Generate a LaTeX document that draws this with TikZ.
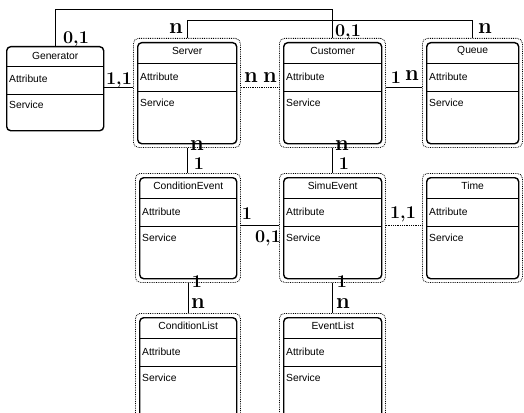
\documentclass[tikz,border=0pt]{standalone}
\usepackage{fontspec}
\newfontfamily\boxfont{Liberation Sans}
\begin{document}
\begin{tikzpicture}[x=1pt,y=-1pt,
  outerbox/.style={draw, densely dotted, rounded corners=5pt, line width=0.8pt, inner sep=0pt, minimum height=109pt},
  innerbox/.style={draw, rounded corners=4pt, line width=1.4pt, inner sep=0pt},
  divider/.style={line width=1pt},
  boxtext/.style={font=\boxfont\fontsize{10.3}{12}\selectfont, inner sep=0pt},
  link/.style={line width=0.8pt},
  dotlink/.style={line width=0.8pt, densely dotted},
  mult/.style={font=\bfseries\fontsize{18}{18}\selectfont, inner sep=0pt},
  multn/.style={font=\bfseries\fontsize{22}{22}\selectfont, inner sep=0pt}]
\useasboundingbox (0,0) rectangle (524,412);
\clip (0,0) rectangle (524,412);
% #1 name, #2 x, #3 y, #4 outer width, #5 title
\newcommand\classbox[5]{%
  \node[outerbox, minimum width=#4pt, anchor=north west] (#1) at (#2,#3) {};
  \node[innerbox, minimum width=#4pt-8pt, minimum height=101pt, anchor=north west] (#1-in) at (#2+4,#3+4) {};
  \draw[divider] ([yshift=-21pt]#1-in.north west) -- ([yshift=-21pt]#1-in.north east);
  \draw[divider] ([yshift=-49pt]#1-in.north west) -- ([yshift=-49pt]#1-in.north east);
  \node[boxtext] (#1-t) at ([yshift=-9pt]#1-in.north) {#5};
  \node[boxtext, anchor=west] (#1-a) at ([xshift=3pt,yshift=-35pt]#1-in.north west) {Attribute};
  \node[boxtext, anchor=west] (#1-s) at ([xshift=3pt,yshift=-61pt]#1-in.north west) {Service};
}
% Generator (no dotted frame)
\node[innerbox, minimum width=97pt, minimum height=84pt, anchor=north west] (generator) at (6,46) {};
\draw[divider] ([yshift=-20pt]generator.north west) -- ([yshift=-20pt]generator.north east);
\draw[divider] ([yshift=-48pt]generator.north west) -- ([yshift=-48pt]generator.north east);
\node[boxtext] (generator-t) at ([yshift=-10pt]generator.north) {Generator};
\node[boxtext, anchor=west] (generator-a) at ([xshift=3pt,yshift=-33pt]generator.north west) {Attribute};
\node[boxtext, anchor=west] (generator-s) at ([xshift=3pt,yshift=-59pt]generator.north west) {Service};

\classbox{server}{133}{38}{107}{Server}
\classbox{customer}{279}{38}{106}{Customer}
\classbox{queue}{422}{38}{100}{Queue}
\classbox{condevent}{135}{173}{105}{ConditionEvent}
\classbox{simuevent}{279}{173}{106}{SimuEvent}
\classbox{time}{422}{173}{100}{Time}
\classbox{condlist}{135}{313}{105}{ConditionList}
\classbox{eventlist}{279}{313}{106}{EventList}

% connectors
\coordinate (top1) at (0,9);
\coordinate (top2) at (0,20);
\coordinate (row1) at (0,87);
\coordinate (row2) at (0,225);
\draw[link] (generator.north) |- (customer.north |- top1) -- (customer.north);
\draw[link] (server.north) |- (queue.north |- top2) -- (queue.north);
\draw[link] (generator.east |- row1) -- (server.west |- row1);
\draw[dotlink] (server.east |- row1) -- (customer.west |- row1);
\draw[link] (customer.east |- row1) -- (queue.west |- row1);
\draw[link] (server.south) -- (server.south |- condevent.north);
\draw[link] (customer.south) -- (customer.south |- simuevent.north);
\draw[link] (condevent.east |- row2) -- (simuevent.west |- row2);
\draw[dotlink] (simuevent.east |- row2) -- (time.west |- row2);
\draw[link] (condevent.south) -- (condevent.south |- condlist.north);
\draw[link] (simuevent.south) -- (simuevent.south |- eventlist.north);

% multiplicities
\node[mult] (m1) at (76,39) {0,1};
\node[multn] (m2) at (176,29) {n};
\node[mult] (m3) at (348,32) {0,1};
\node[multn] (m4) at (485,29) {n};
\node[mult] (m5) at (119,80) {1,1};
\node[multn] (m6) at (251,78) {n};
\node[multn] (m7) at (270,78) {n};
\node[mult] (m8) at (396,78) {1};
\node[multn] (m9) at (412,76) {n};
\node[multn] (m10) at (197,146) {n};
\node[mult] (m11) at (199,164) {1};
\node[multn] (m12) at (342,146) {n};
\node[mult] (m13) at (344,164) {1};
\node[mult] (m14) at (247,214) {1};
\node[mult] (m15) at (268,238) {0,1};
\node[mult] (m16) at (403,214) {1,1};
\node[mult] (m17) at (197,282) {1};
\node[multn] (m18) at (198,304) {n};
\node[mult] (m19) at (342,282) {1};
\node[multn] (m20) at (343,304) {n};
\end{tikzpicture}
\end{document}
